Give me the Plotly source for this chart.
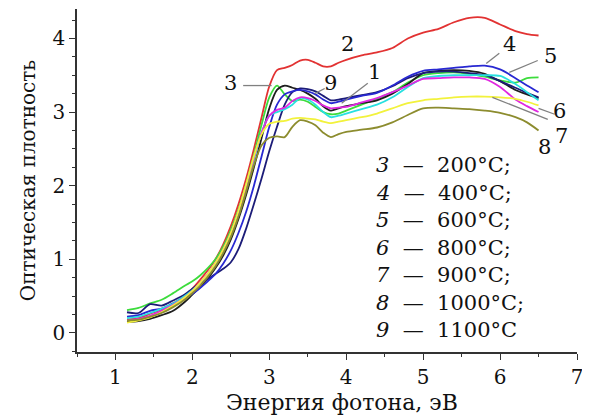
import plotly.graph_objects as go

X = [1.15, 1.3, 1.45, 1.6, 1.75, 1.9, 2.0, 2.1, 2.2, 2.3, 2.4, 2.5, 2.6, 2.7, 2.8, 2.9,
     3.0, 3.1, 3.2, 3.3, 3.4, 3.5, 3.6, 3.7, 3.8, 3.9, 4.0, 4.2, 4.4, 4.6, 4.8, 5.0,
     5.2, 5.4, 5.6, 5.8, 6.0, 6.2, 6.35, 6.5]

curve_red = [0.18, 0.2, 0.26, 0.32, 0.4, 0.5, 0.6, 0.72, 0.85, 1.0, 1.2, 1.45, 1.75, 2.1, 2.5, 2.93,
             3.35, 3.57, 3.6, 3.64, 3.7, 3.71, 3.67, 3.62, 3.62, 3.67, 3.71, 3.77, 3.81, 3.87, 4.0, 4.08,
             4.13, 4.22, 4.28, 4.28, 4.19, 4.1, 4.06, 4.04]
curve_green = [0.31, 0.34, 0.4, 0.45, 0.54, 0.64, 0.7, 0.78, 0.88, 1.0, 1.17, 1.4, 1.68, 2.02, 2.42, 2.83,
               3.2, 3.36, 3.24, 3.15, 3.17, 3.14, 3.07, 3.0, 2.97, 2.98, 3.02, 3.1, 3.18, 3.27, 3.4, 3.5,
               3.53, 3.54, 3.52, 3.48, 3.43, 3.4, 3.46, 3.47]
curve_black = [0.15, 0.16, 0.19, 0.24, 0.3, 0.42, 0.52, 0.62, 0.74, 0.88, 1.05, 1.27, 1.55, 1.88, 2.25, 2.65,
               3.05, 3.3, 3.36, 3.33, 3.3, 3.25, 3.18, 3.08, 3.02, 3.05, 3.08, 3.12, 3.16, 3.25, 3.38, 3.53,
               3.56, 3.57, 3.56, 3.52, 3.42, 3.3, 3.24, 3.19]
curve_navy = [0.28, 0.27, 0.39, 0.37, 0.44, 0.52, 0.6, 0.67, 0.73, 0.8, 0.87, 0.96, 1.14, 1.42, 1.75, 2.1,
              2.47, 2.8, 3.1, 3.27, 3.32, 3.31, 3.28, 3.22, 3.16, 3.17, 3.19, 3.23, 3.27, 3.35, 3.46, 3.53,
              3.55, 3.55, 3.53, 3.5, 3.42, 3.33, 3.26, 3.2]
curve_blue = [0.22, 0.24, 0.3, 0.33, 0.4, 0.47, 0.53, 0.61, 0.7, 0.8, 0.94, 1.12, 1.36, 1.65, 2.0, 2.4,
              2.8, 3.1, 3.24, 3.28, 3.3, 3.28, 3.24, 3.17, 3.12, 3.14, 3.17, 3.22, 3.26, 3.36, 3.48, 3.56,
              3.58, 3.6, 3.62, 3.63, 3.58, 3.46, 3.36, 3.27]
curve_cyan = [0.2, 0.22, 0.27, 0.33, 0.4, 0.5, 0.58, 0.68, 0.8, 0.94, 1.12, 1.34, 1.62, 1.96, 2.35, 2.72,
              2.95, 3.0, 3.04, 3.1, 3.19, 3.17, 3.1, 3.0, 2.93, 2.95, 2.98, 3.04, 3.1, 3.2, 3.34, 3.46,
              3.49, 3.5, 3.5, 3.5, 3.49, 3.38, 3.27, 3.16]
curve_magenta = [0.17, 0.19, 0.23, 0.3, 0.38, 0.48, 0.57, 0.68, 0.8, 0.95, 1.13, 1.36, 1.65, 2.0, 2.38, 2.72,
                 2.95, 3.03, 3.06, 3.15, 3.2, 3.19, 3.15, 3.09, 3.05, 3.06, 3.07, 3.13, 3.19, 3.27, 3.36, 3.45,
                 3.46, 3.47, 3.47, 3.45, 3.34, 3.17, 3.08, 3.0]
curve_yellow = [0.14, 0.17, 0.21, 0.28, 0.37, 0.48, 0.57, 0.68, 0.8, 0.95, 1.13, 1.36, 1.66, 2.02, 2.4, 2.7,
                2.84, 2.87, 2.88, 2.91, 2.92, 2.91, 2.9, 2.87, 2.85, 2.87, 2.89, 2.93, 2.98, 3.05, 3.12, 3.16,
                3.18, 3.2, 3.21, 3.21, 3.2, 3.18, 3.14, 3.09]
curve_olive = [0.17, 0.18, 0.22, 0.27, 0.35, 0.45, 0.54, 0.64, 0.76, 0.9, 1.08, 1.3, 1.58, 1.92, 2.28, 2.55,
               2.65, 2.67, 2.66, 2.8, 2.89, 2.87, 2.82, 2.72, 2.66, 2.7, 2.73, 2.76, 2.79, 2.86, 2.96, 3.05,
               3.06, 3.05, 3.04, 3.02, 2.99, 2.93, 2.86, 2.75]

series = [
    ("2", curve_red, "#e23232"),
    ("3", curve_green, "#3cdc3c"),
    ("1", curve_black, "#1e1e1e"),
    ("9", curve_navy, "#1c1c78"),
    ("4", curve_blue, "#2828d2"),
    ("5", curve_cyan, "#28e0e0"),
    ("6", curve_magenta, "#e028e0"),
    ("7", curve_yellow, "#f2f23c"),
    ("8", curve_olive, "#8c8c2e"),
]

legend_lines = [("3", "200°C;"), ("4", "400°C;"), ("5", "600°C;"), ("6", "800°C;"),
                ("7", "900°C;"), ("8", "1000°C;"), ("9", "1100°C")]

# curve number labels: (text, x, y)
curve_labels = [("2", 4.02, 3.93), ("3", 2.5, 3.4), ("9", 3.8, 3.4), ("1", 4.37, 3.55),
                ("4", 6.12, 3.93), ("5", 6.65, 3.76), ("6", 6.77, 3.02), ("7", 6.8, 2.67),
                ("8", 6.58, 2.52)]
# leader lines: (x0, y0, x1, y1)
leaders = [(2.66, 3.36, 3.03, 3.36), (3.59, 3.25, 3.72, 3.32), (3.94, 3.12, 4.28, 3.39),
           (5.82, 3.66, 5.99, 3.8), (6.12, 3.54, 6.49, 3.7), (6.5, 3.05, 6.71, 2.97),
           (5.9, 3.2, 6.62, 2.9)]

FONT = "DejaVu Serif"

fig = go.Figure()
for name, ys, col in series:
    fig.add_trace(go.Scatter(x=X, y=ys, mode="lines", name=name,
                             line=dict(color=col, width=1.8, shape="spline", smoothing=0.8),
                             showlegend=False))

for x0, y0, x1, y1 in leaders:
    fig.add_shape(type="line", x0=x0, y0=y0, x1=x1, y1=y1, xref="x", yref="y",
                  line=dict(color="#808080", width=1.3))

for t, x, y in curve_labels:
    fig.add_annotation(x=x, y=y, text=t, showarrow=False, xref="x", yref="y",
                       font=dict(family=FONT, size=21, color="#111"))

for i, (num, temp) in enumerate(legend_lines):
    fig.add_annotation(x=0.594, y=0.545 - i * 0.0802, xref="paper", yref="paper",
                       xanchor="left", yanchor="middle", showarrow=False,
                       text=f"<i>{num}</i>  —  {temp}",
                       font=dict(family=FONT, size=21, color="#111"))

# x-axis title placed slightly right of centre, as in the original
fig.add_annotation(x=0.53, y=-0.146, xref="paper", yref="paper", showarrow=False,
                   xanchor="center", yanchor="middle", text="Энергия фотона, эВ",
                   font=dict(family=FONT, size=22, color="#111"))

fig.update_layout(
    width=582, height=408,
    margin=dict(l=69, r=13, t=1, b=64),
    paper_bgcolor="white", plot_bgcolor="white",
    font=dict(family=FONT, size=21, color="#111"),
    xaxis=dict(range=[0.5, 7.0], showgrid=False, zeroline=False, showline=True, automargin=False,
               linecolor="#333", linewidth=1.5, ticks="outside", ticklen=6, tickwidth=1.3,
               tickcolor="#333", dtick=1, tick0=0,
               minor=dict(ticks="outside", ticklen=3, dtick=0.5, tickcolor="#333", tickwidth=1.2),
               tickfont=dict(family=FONT, size=20)),
    yaxis=dict(range=[-0.26, 4.4], showgrid=False, zeroline=False, showline=True, automargin=False,
               linecolor="#333", linewidth=1.5, ticks="outside", ticklen=6, tickwidth=1.3,
               tickcolor="#333", dtick=1, tick0=0,
               minor=dict(ticks="outside", ticklen=3, dtick=0.25, tickcolor="#333", tickwidth=1.2),
               tickfont=dict(family=FONT, size=20),
               title=dict(text="Оптическая плотность", font=dict(family=FONT, size=20), standoff=12)),
)

fig.write_html("out.html")
